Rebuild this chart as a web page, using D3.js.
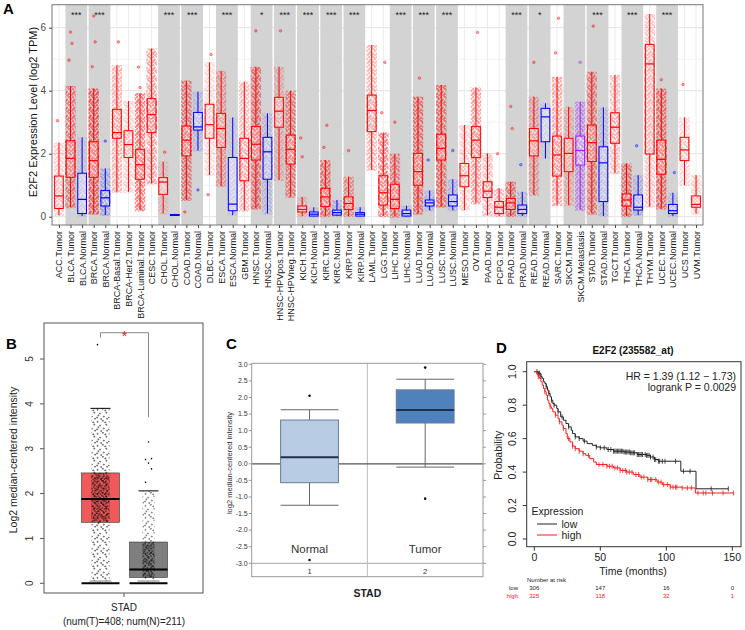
<!DOCTYPE html>
<html>
<head>
<meta charset="utf-8">
<script src="https://cdn.jsdelivr.net/npm/d3@7"></script>
<style>
  body { margin: 0; background: #fff; }
  svg { display: block; font-family: "Liberation Sans", Arial, sans-serif; }
</style>
</head>
<body>
<script>
// ---- panel A data (TIMER boxplots) ----
const groupsA = ["ACC.Tumor","BLCA.Tumor","BLCA.Normal","BRCA.Tumor","BRCA.Normal","BRCA-Basal.Tumor","BRCA-Her2.Tumor","BRCA-Luminal.Tumor","CESC.Tumor","CHOL.Tumor","CHOL.Normal","COAD.Tumor","COAD.Normal","DLBC.Tumor","ESCA.Tumor","ESCA.Normal","GBM.Tumor","HNSC.Tumor","HNSC.Normal","HNSC-HPVpos.Tumor","HNSC-HPVneg.Tumor","KICH.Tumor","KICH.Normal","KIRC.Tumor","KIRC.Normal","KIRP.Tumor","KIRP.Normal","LAML.Tumor","LGG.Tumor","LIHC.Tumor","LIHC.Normal","LUAD.Tumor","LUAD.Normal","LUSC.Tumor","LUSC.Normal","MESO.Tumor","OV.Tumor","PAAD.Tumor","PCPG.Tumor","PRAD.Tumor","PRAD.Normal","READ.Tumor","READ.Normal","SARC.Tumor","SKCM.Tumor","SKCM.Metastasis","STAD.Tumor","STAD.Normal","TGCT.Tumor","THCA.Tumor","THCA.Normal","THYM.Tumor","UCEC.Tumor","UCEC.Normal","UCS.Tumor","UVM.Tumor"];
const loA  = [0.05,0.3,0.02,0.1,0.05,0.79,0.79,0.2,1.06,0.1,0.03,0.53,2.1,1.32,0.97,0.05,0.19,0.26,0.1,1.16,0.63,0.02,0.01,0.02,0.02,0.02,0.01,1.48,0.02,0.0,0.0,0.1,0.2,0.32,0.2,0.21,0.42,0.05,0.02,0.02,0.02,0.69,1.85,0.37,0.37,0.21,0.1,0.02,1.38,0.02,0.05,0.32,0.26,0.02,1.0,0.1];
const q1A  = [0.26,1.25,0.1,1.25,0.34,2.49,1.88,1.19,2.67,0.71,0.04,1.93,2.75,2.49,2.2,0.19,1.14,1.8,1.19,2.84,1.67,0.15,0.02,0.32,0.05,0.23,0.02,2.7,0.37,0.26,0.02,1.0,0.34,1.8,0.34,0.95,1.88,0.61,0.1,0.23,0.1,1.93,2.38,1.29,1.43,1.64,1.75,0.48,2.33,0.34,0.21,1.99,1.35,0.1,1.78,0.3];
const medA = [0.66,1.85,0.55,1.78,0.6,2.67,2.29,1.65,3.24,1.1,0.05,2.43,2.85,2.92,2.8,0.4,1.85,2.3,2.06,3.35,2.14,0.23,0.08,0.63,0.13,0.42,0.08,3.37,0.76,0.55,0.1,1.43,0.44,2.17,0.48,1.3,2.43,0.81,0.3,0.44,0.23,2.41,3.17,1.96,2.01,2.1,2.35,1.71,2.84,0.53,0.3,4.85,1.82,0.19,2.12,0.39];
const q3A  = [1.29,2.41,1.38,2.38,0.83,3.41,2.73,2.14,3.75,1.24,0.07,2.88,3.31,3.57,3.28,1.88,2.49,2.86,2.52,3.79,2.59,0.34,0.15,0.9,0.21,0.63,0.13,3.86,1.3,1.03,0.21,2.01,0.53,2.62,0.69,1.69,2.86,1.11,0.48,0.58,0.37,2.8,3.44,2.56,2.49,2.56,2.91,2.22,3.3,0.72,0.69,5.47,2.43,0.39,2.52,0.66];
const hiA  = [2.35,4.15,2.52,4.07,1.53,4.81,3.67,3.92,5.34,1.75,0.09,4.32,3.97,4.9,4.63,3.15,4.29,4.76,3.28,4.76,4.0,0.63,0.3,1.8,0.53,1.27,0.3,5.45,2.67,2.0,0.35,3.81,0.83,4.18,1.19,2.91,4.1,2.01,0.9,1.11,0.79,3.81,3.6,4.44,3.49,3.65,4.6,3.47,4.5,1.69,1.32,6.43,4.07,0.76,3.15,1.32];
const nA   = [79,408,19,1093,112,191,82,566,304,36,9,457,41,48,184,11,153,520,44,97,422,66,25,533,72,290,32,173,516,371,50,515,59,501,51,87,303,178,179,497,52,166,10,259,103,368,415,35,150,509,59,120,545,35,57,80];
const outA = [["ACC.Tumor",3.05],["BLCA.Tumor",5.86],["BLCA.Tumor",5.5],["BLCA.Tumor",4.97],["BRCA.Tumor",6.37],["BRCA.Tumor",5.55],["BRCA.Tumor",4.76],["BRCA.Normal",2.4],["BRCA-Basal.Tumor",5.55],["BRCA-Luminal.Tumor",4.75],["BRCA-Luminal.Tumor",4.1],["CHOL.Tumor",2.05],["COAD.Tumor",0.15],["COAD.Normal",0.85],["DLBC.Tumor",5.15],["DLBC.Tumor",0.7],["HNSC.Tumor",5.9],["HNSC-HPVpos.Tumor",5.9],["KICH.Tumor",2.5],["KICH.Tumor",1.9],["KIRC.Tumor",2.9],["KIRC.Tumor",2.2],["KIRP.Tumor",2.1],["LGG.Tumor",4.9],["LGG.Tumor",3.3],["LIHC.Tumor",3.0],["LUAD.Tumor",4.4],["LUAD.Normal",1.8],["LUSC.Normal",2.1],["OV.Tumor",5.85],["PCPG.Tumor",2.0],["PRAD.Tumor",3.5],["PRAD.Tumor",2.8],["PRAD.Normal",1.65],["READ.Tumor",4.9],["SARC.Tumor",6.3],["SARC.Tumor",5.2],["SKCM.Metastasis",4.9],["STAD.Tumor",6.05],["THCA.Normal",2.25],["UCEC.Tumor",4.35],["UCEC.Normal",1.4],["UCS.Tumor",4.2]];
// shaded pairs: first group of pair, significance label
const pairsA = [["BLCA.Tumor","***"],["BRCA.Tumor","***"],["CHOL.Tumor","***"],["COAD.Tumor","***"],["ESCA.Tumor","***"],["HNSC.Tumor","*"],["HNSC-HPVpos.Tumor","***"],["KICH.Tumor","***"],["KIRC.Tumor","***"],["KIRP.Tumor","***"],["LIHC.Tumor","***"],["LUAD.Tumor","***"],["LUSC.Tumor","***"],["PRAD.Tumor","***"],["READ.Tumor","*"],["SKCM.Tumor",""],["STAD.Tumor","***"],["THCA.Tumor","***"],["UCEC.Tumor","***"]];
const ticksA = [0, 2, 4, 6];

// ---- panel B data (GEPIA) ----
const groupsB = ["Tumor", "Normal"];
const q1B = [1.36, 0.13], medB = [1.88, 0.31], q3B = [2.46, 0.92], hiB = [3.9, 2.06];
const outB = [["Tumor",5.32],["Normal",3.15],["Normal",2.78],["Normal",2.76],["Normal",2.68],["Normal",2.55],["Normal",2.25]];
const nB = [408, 211];
const ticksB = [0, 1, 2, 3, 4, 5];

// ---- panel C data (Oncomine) ----
const groupsC = ["Normal", "Tumor"];
const loC = [-1.25, -0.1], q1C = [-0.57, 1.23], medC = [0.2, 1.62], q3C = [1.32, 2.23], hiC = [1.63, 2.55];
const outC = [["Normal",2.05],["Normal",-2.9],["Tumor",2.9],["Tumor",-1.05]];
const ticksC = [3.0,2.5,2.0,1.5,1.0,0.5,0.0,-0.5,-1.0,-1.5,-2.0,-2.5,-3.0];

// ---- panel D data (KM plotter), step knots [months, survival] ----
const lowKM = [[0,1],[3,0.99],[5,0.97],[6,0.96],[7,0.94],[8,0.93],[9,0.91],[10,0.89],[11,0.87],[12,0.85],[13,0.83],[14,0.81],[15,0.8],[17,0.78],[18,0.76],[20,0.73],[22,0.71],[24,0.69],[26,0.67],[28,0.65],[29,0.63],[31,0.61],[34,0.6],[37,0.585],[40,0.57],[44,0.56],[47,0.55],[50,0.545],[55,0.535],[60,0.525],[68,0.52],[73,0.515],[78,0.505],[85,0.5],[88,0.49],[91,0.475],[94,0.465],[111,0.405],[122.5,0.3],[147,0.3]];
const highKM = [[0,1],[2,0.985],[3,0.97],[4,0.96],[5,0.94],[6,0.92],[7,0.9],[8,0.88],[9,0.86],[10,0.83],[11,0.81],[12,0.79],[13,0.78],[14,0.76],[16,0.74],[18,0.72],[19,0.7],[21,0.68],[22,0.66],[24,0.63],[25,0.6],[27,0.58],[29,0.555],[31,0.54],[34,0.525],[37,0.51],[39,0.5],[42,0.48],[45,0.46],[47,0.445],[55,0.435],[60,0.425],[65,0.41],[70,0.4],[75,0.385],[80,0.37],[86,0.355],[93,0.34],[97,0.325],[103,0.31],[112,0.305],[122,0.275],[151,0.275]];
const lowCensor = [2,3,4,5,9,11,13,15,18,21,26,31,34,38,47,50,53,56,58,60,61,62,63,64,65,66,67,68,69,70,71,72,73,74,75,76,78,79,80,81,82,84,85,86,87,88,90,91,92,94,95,97,99,107,113,118,134,147];
const highCensor = [3,8,12,16,19,22,26,29,31,34,37,41,49,52,55,57,59,61,63,65,67,69,70,72,74,77,79,81,83,86,88,89,92,94,96,98,101,103,105,107,108,112,116,119,124,128,130,135,143,151];
const riskTimes = [0, 50, 100, 150];
const riskLow = [306, 147, 16, 0];
const riskHigh = [325, 118, 32, 1];
const ticksDx = [0, 50, 100, 150];
const ticksDy = [0, 0.2, 0.4, 0.6, 0.8, 1.0];

const svg = d3.select("body").append("svg").attr("width", 745).attr("height", 630);
svg.append("rect").attr("width", 745).attr("height", 630).attr("fill", "#fff");

// dot textures for the sample clouds (irregular tile so it doesn't look hatched)
const tile = [[1,1.2],[4.6,0.5],[6.9,3.1],[2.7,3.7],[5.2,5.7],[0.7,6.3],[3.5,7.3],[7.4,7.1],[6.2,1.6],[1.6,4.9]];
const defs = svg.append("defs");
[["red", "#ff0000", 0.95, 8], ["blue", "#0000ff", 0.95, 8], ["purple", "#a020f0", 0.95, 8],
 ["black", "#000", 0.65, 7.5], ["black-sparse", "#000", 0.65, 12]].forEach(([id, c, r, s]) => {
  const p = defs.append("pattern").attr("id", "dots-" + id)
    .attr("width", s).attr("height", s).attr("patternUnits", "userSpaceOnUse");
  tile.forEach(([x, y]) => p.append("circle").attr("cx", x * s / 8).attr("cy", y * s / 8).attr("r", r)
    .attr("fill", c).attr("fill-opacity", 0.55).attr("stroke", c).attr("stroke-width", 0.4));
});

const panelLabel = (t, x, y) => svg.append("text").attr("x", x).attr("y", y)
  .attr("font-size", 15).attr("font-weight", "bold").text(t);

// ================= A =================
const a = { left: 52, right: 703, top: 4.7, bottom: 225 };
const xA = d3.scalePoint().domain(groupsA).range([a.left, a.right]).padding(0.6);
const yA = d3.scaleLinear().domain([0, 6]).range([216.7, 27.7]);
const stepA = xA.step();
const colorOf = g => g.endsWith("Normal") ? "#0000ff" : g.endsWith("Metastasis") ? "#a020f0" : "#ff0000";
const patOf = g => g.endsWith("Normal") ? "blue" : g.endsWith("Metastasis") ? "purple" : "red";

const gA = svg.append("g");
// grid
[1, 3, 5].forEach(v => gA.append("line").attr("x1", a.left).attr("x2", a.right)
  .attr("y1", yA(v)).attr("y2", yA(v)).attr("stroke", "#f2f2f2"));
ticksA.forEach(v => gA.append("line").attr("x1", a.left).attr("x2", a.right)
  .attr("y1", yA(v)).attr("y2", yA(v)).attr("stroke", "#e3e3e3"));
gA.selectAll(".vgrid").data(groupsA).enter().append("line")
  .attr("x1", d => xA(d)).attr("x2", d => xA(d)).attr("y1", a.top).attr("y2", a.bottom)
  .attr("stroke", "#ebebeb");

// shaded pairs + stars
pairsA.forEach(([g, s]) => {
  const x0 = xA(g) - stepA / 2 + 0.7;
  gA.append("rect").attr("x", x0).attr("y", a.top).attr("width", stepA * 2 - 1.4)
    .attr("height", a.bottom - a.top).attr("fill", "#d3d3d3");
  gA.append("text").attr("x", xA(g) + stepA / 2).attr("y", 18).attr("text-anchor", "middle")
    .attr("font-size", 9).attr("fill", "#222").text(s);
});

// clouds, whiskers, boxes
const bwA = stepA * 0.75, cwA = stepA * 0.9;
groupsA.forEach((g, i) => {
  const x = xA(g), c = colorOf(g);
  const op = Math.min(1, Math.sqrt(nA[i]) / 26);
  gA.append("rect").attr("x", x - cwA / 2).attr("width", cwA)
    .attr("y", yA(hiA[i])).attr("height", yA(loA[i]) - yA(hiA[i]) + 1)
    .attr("fill", "url(#dots-" + patOf(g) + ")").attr("opacity", op * 0.8);
  gA.append("rect").attr("x", x - cwA / 2).attr("width", cwA)
    .attr("y", yA(q3A[i])).attr("height", yA(q1A[i]) - yA(q3A[i]))
    .attr("fill", "url(#dots-" + patOf(g) + ")").attr("opacity", Math.min(1, op * 1.3));
  gA.append("line").attr("x1", x).attr("x2", x).attr("y1", yA(hiA[i])).attr("y2", yA(q3A[i]))
    .attr("stroke", c).attr("stroke-width", 1);
  gA.append("line").attr("x1", x).attr("x2", x).attr("y1", yA(q1A[i])).attr("y2", yA(loA[i]))
    .attr("stroke", c).attr("stroke-width", 1);
  gA.append("rect").attr("x", x - bwA / 2).attr("width", bwA)
    .attr("y", yA(q3A[i])).attr("height", Math.max(1, yA(q1A[i]) - yA(q3A[i])))
    .attr("fill", "#fff").attr("fill-opacity", 0.45).attr("stroke", c).attr("stroke-width", 1);
  gA.append("line").attr("x1", x - bwA / 2).attr("x2", x + bwA / 2)
    .attr("y1", yA(medA[i])).attr("y2", yA(medA[i])).attr("stroke", c).attr("stroke-width", 1.2);
});
gA.selectAll(".outA").data(outA).enter().append("circle")
  .attr("cx", (d, i) => xA(d[0]) + ((i % 3) - 1) * 1.5).attr("cy", d => yA(d[1])).attr("r", 1.3)
  .attr("fill", d => colorOf(d[0])).attr("fill-opacity", 0.35)
  .attr("stroke", d => colorOf(d[0])).attr("stroke-opacity", 0.6).attr("stroke-width", 0.6);

// frame + axes
gA.append("rect").attr("x", a.left).attr("y", a.top).attr("width", a.right - a.left)
  .attr("height", a.bottom - a.top).attr("fill", "none").attr("stroke", "#777");
const axA = gA.append("g").attr("transform", "translate(" + a.left + ",0)")
  .call(d3.axisLeft(yA).tickValues(ticksA).tickFormat(d3.format("d")).tickSize(3));
axA.select(".domain").remove();
axA.selectAll("line").attr("stroke", "#444");
axA.selectAll("text").attr("font-size", 10).attr("fill", "#4d4d4d").attr("font-family", "Liberation Sans");
const axAx = gA.append("g").attr("transform", "translate(0," + a.bottom + ")")
  .call(d3.axisBottom(xA).tickSize(3));
axAx.select(".domain").remove();
axAx.selectAll("line").attr("stroke", "#444");
axAx.selectAll("text").attr("font-size", 9).attr("fill", "#1a1a1a").attr("font-family", "Liberation Sans")
  .attr("transform", "rotate(-90)").attr("text-anchor", "end")
  .attr("x", -6).attr("y", 0).attr("dy", "0.33em");
gA.append("text").attr("transform", "translate(37,112) rotate(-90)").attr("text-anchor", "middle")
  .attr("font-size", 11).attr("fill", "#111").text("E2F2 Expression Level (log2 TPM)");
panelLabel("A", 3, 14);

// ================= B =================
const b = { left: 44, right: 203, top: 323, bottom: 593 };
const xB = d3.scaleBand().domain(groupsB).range([81.5, 167.5]).paddingInner(0.21);
const yB = d3.scaleLinear().domain([0, 5]).range([583.3, 359]);
const gB = svg.append("g");
const fillB = ["#f05a5a", "#7f7f7f"], cloudW = [18, 12];
groupsB.forEach((g, i) => {
  const x0 = xB(g), w = xB.bandwidth(), cx = x0 + w / 2;
  gB.append("rect").attr("x", x0).attr("width", w).attr("y", yB(q3B[i]))
    .attr("height", yB(q1B[i]) - yB(q3B[i])).attr("fill", fillB[i]).attr("stroke", "#333").attr("stroke-width", 0.6);
  // sample cloud drawn over the box
  gB.append("rect").attr("x", cx - cloudW[i] / 2).attr("width", cloudW[i])
    .attr("y", yB(hiB[i])).attr("height", yB(0) - yB(hiB[i]))
    .attr("fill", "url(#dots-black-sparse)").attr("opacity", nB[i] > 300 ? 0.85 : 0.7);
  gB.append("rect").attr("x", cx - cloudW[i] / 2).attr("width", cloudW[i])
    .attr("y", yB(q3B[i])).attr("height", yB(q1B[i]) - yB(q3B[i]))
    .attr("fill", "url(#dots-black)").attr("opacity", 0.85);
  gB.append("line").attr("x1", x0).attr("x2", x0 + w).attr("y1", yB(medB[i])).attr("y2", yB(medB[i]))
    .attr("stroke", "#000").attr("stroke-width", 2);
  gB.append("line").attr("x1", cx - 10).attr("x2", cx + 10).attr("y1", yB(hiB[i])).attr("y2", yB(hiB[i]))
    .attr("stroke", "#000").attr("stroke-width", 1);
  gB.append("line").attr("x1", x0 + 8).attr("x2", x0 + w - 8).attr("y1", yB(0.05)).attr("y2", yB(0.05))
    .attr("stroke", "#aaa").attr("stroke-width", 1.5);
  gB.append("line").attr("x1", x0).attr("x2", x0 + w).attr("y1", yB(0)).attr("y2", yB(0))
    .attr("stroke", "#000").attr("stroke-width", 2);
});
gB.selectAll(".outB").data(outB).enter().append("circle")
  .attr("cx", (d, i) => xB(d[0]) + xB.bandwidth() / 2 + ((i % 3) - 1) * 3)
  .attr("cy", d => yB(d[1])).attr("r", 0.8).attr("fill", "#000");
// significance bracket
const bl = xB("Tumor") + xB.bandwidth() / 2, br = xB("Normal") + xB.bandwidth() / 2;
gB.append("path").attr("d", "M" + bl + "," + (yB(5.32) - 7) + "V332.7H" + br + "V" + yB(3.7))
  .attr("fill", "none").attr("stroke", "#888").attr("stroke-width", 1);
gB.append("text").attr("x", (bl + br) / 2).attr("y", 341).attr("text-anchor", "middle")
  .attr("font-size", 14).attr("fill", "#e8202a").text("*");
gB.append("rect").attr("x", b.left).attr("y", b.top).attr("width", b.right - b.left)
  .attr("height", b.bottom - b.top).attr("fill", "none").attr("stroke", "#555");
ticksB.forEach(v => {
  gB.append("line").attr("x1", b.left - 4).attr("x2", b.left).attr("y1", yB(v)).attr("y2", yB(v)).attr("stroke", "#555");
  gB.append("text").attr("transform", "translate(33," + yB(v) + ") rotate(-90)").attr("text-anchor", "middle")
    .attr("font-size", 10).attr("fill", "#333").text(v);
});
gB.append("line").attr("x1", 124).attr("x2", 124).attr("y1", b.bottom).attr("y2", b.bottom + 4).attr("stroke", "#555");
gB.append("text").attr("transform", "translate(17,460) rotate(-90)").attr("text-anchor", "middle")
  .attr("font-size", 10.5).attr("fill", "#222").text("Log2 median-centered intensity");
gB.append("text").attr("x", 124).attr("y", 611).attr("text-anchor", "middle").attr("font-size", 10).attr("fill", "#222").text("STAD");
gB.append("text").attr("x", 124).attr("y", 625).attr("text-anchor", "middle").attr("font-size", 10).attr("fill", "#222").text("(num(T)=408; num(N)=211)");
panelLabel("B", 6, 349);

// ================= C =================
const c = { left: 251.7, right: 483, top: 363.3, bottom: 576.7 };
const xC = d3.scaleBand().domain(groupsC).range([c.left, c.right]);
const yC = d3.scaleLinear().domain([-3, 3]).range([563.3, 364.3]);
const gC = svg.append("g");
const fillC = ["#b8cce4", "#4f81bd"];
gC.append("line").attr("x1", c.left).attr("x2", c.right).attr("y1", yC(-3)).attr("y2", yC(-3)).attr("stroke", "#a6a6a6");
gC.append("line").attr("x1", xC("Tumor")).attr("x2", xC("Tumor")).attr("y1", c.top).attr("y2", c.bottom).attr("stroke", "#bbb");
gC.append("line").attr("x1", c.left).attr("x2", c.right).attr("y1", yC(0)).attr("y2", yC(0)).attr("stroke", "#555").attr("stroke-width", 1.2);
groupsC.forEach((g, i) => {
  const w = xC.bandwidth() * 0.5, cx = xC(g) + xC.bandwidth() / 2, x0 = cx - w / 2;
  gC.append("line").attr("x1", cx).attr("x2", cx).attr("y1", yC(hiC[i])).attr("y2", yC(loC[i])).attr("stroke", "#666");
  [hiC[i], loC[i]].forEach(v => gC.append("line").attr("x1", x0).attr("x2", x0 + w)
    .attr("y1", yC(v)).attr("y2", yC(v)).attr("stroke", "#666"));
  gC.append("rect").attr("x", x0).attr("width", w).attr("y", yC(q3C[i])).attr("height", yC(q1C[i]) - yC(q3C[i]))
    .attr("fill", fillC[i]).attr("stroke", "#6a7c94").attr("stroke-width", 1);
  gC.append("line").attr("x1", x0).attr("x2", x0 + w).attr("y1", yC(medC[i])).attr("y2", yC(medC[i]))
    .attr("stroke", "#1f2f4f").attr("stroke-width", 2);
  gC.append("text").attr("x", cx).attr("y", 553).attr("text-anchor", "middle").attr("font-size", 11.5).attr("fill", "#333").text(g);
  gC.append("text").attr("x", cx).attr("y", 574).attr("text-anchor", "middle").attr("font-size", 7.5).attr("fill", "#333").text(i + 1);
});
gC.selectAll(".outC").data(outC).enter().append("circle")
  .attr("cx", d => xC(d[0]) + xC.bandwidth() / 2).attr("cy", d => yC(d[1])).attr("r", 1.3).attr("fill", "#111");
gC.append("rect").attr("x", c.left).attr("y", c.top).attr("width", c.right - c.left)
  .attr("height", c.bottom - c.top).attr("fill", "none").attr("stroke", "#999");
ticksC.forEach(v => {
  gC.append("line").attr("x1", c.left - 3).attr("x2", c.left).attr("y1", yC(v)).attr("y2", yC(v)).attr("stroke", "#999");
  gC.append("line").attr("x1", c.right).attr("x2", c.right + 3).attr("y1", yC(v)).attr("y2", yC(v)).attr("stroke", "#999");
  gC.append("text").attr("x", c.left - 4).attr("y", yC(v)).attr("dy", "0.33em").attr("text-anchor", "end")
    .attr("font-size", 7).attr("fill", "#333").text(d3.format(".1f")(v).replace("\u2212", "-"));
});
gC.append("text").attr("transform", "translate(232,463) rotate(-90)").attr("text-anchor", "middle")
  .attr("font-size", 7.5).attr("fill", "#333").text("log2 median-centered intensity");
gC.append("text").attr("x", (c.left + c.right) / 2).attr("y", 597).attr("text-anchor", "middle")
  .attr("font-size", 10.5).attr("font-weight", "bold").attr("fill", "#222").text("STAD");
panelLabel("C", 226, 349);

// ================= D =================
const dd = { left: 526.7, right: 741, top: 361.7, bottom: 546.7 };
const xD = d3.scaleLinear().domain([0, 150]).range([534.3, 732.3]);
const yD = d3.scaleLinear().domain([0, 1]).range([539, 371.7]);
const gD = svg.append("g");
const stepLine = d3.line().x(d => xD(d[0])).y(d => yD(d[1])).curve(d3.curveStepAfter);
const survAt = (km, t) => km[d3.bisector(d => d[0]).right(km, t) - 1][1];
[[lowKM, lowCensor, "#222"], [highKM, highCensor, "#ff1a1a"]].forEach(([km, cens, col]) => {
  gD.append("path").attr("d", stepLine(km)).attr("fill", "none").attr("stroke", col).attr("stroke-width", 1);
  gD.selectAll(null).data(cens).enter().append("line")
    .attr("x1", t => xD(t)).attr("x2", t => xD(t))
    .attr("y1", t => yD(survAt(km, t)) - 2.5).attr("y2", t => yD(survAt(km, t)) + 2.5)
    .attr("stroke", col).attr("stroke-width", 0.8);
});
gD.append("rect").attr("x", dd.left).attr("y", dd.top).attr("width", dd.right - dd.left)
  .attr("height", dd.bottom - dd.top).attr("fill", "none").attr("stroke", "#333");
ticksDy.forEach(v => {
  gD.append("line").attr("x1", dd.left - 4).attr("x2", dd.left).attr("y1", yD(v)).attr("y2", yD(v)).attr("stroke", "#333");
  gD.append("text").attr("transform", "translate(516," + yD(v) + ") rotate(-90)").attr("text-anchor", "middle")
    .attr("font-size", 10.5).attr("fill", "#222").text(d3.format(".1f")(v));
});
ticksDx.forEach(v => {
  gD.append("line").attr("x1", xD(v)).attr("x2", xD(v)).attr("y1", dd.bottom).attr("y2", dd.bottom + 4).attr("stroke", "#333");
  gD.append("text").attr("x", xD(v)).attr("y", 561).attr("text-anchor", "middle")
    .attr("font-size", 10.5).attr("fill", "#222").text(v);
});
gD.append("text").attr("transform", "translate(502," + yD(0.5) + ") rotate(-90)").attr("text-anchor", "middle")
  .attr("font-size", 10.5).attr("fill", "#222").text("Probability");
gD.append("text").attr("x", 633).attr("y", 575).attr("text-anchor", "middle").attr("font-size", 10.5).attr("fill", "#222").text("Time (months)");
gD.append("text").attr("x", 633).attr("y", 354).attr("text-anchor", "middle").attr("font-size", 10)
  .attr("font-weight", "bold").attr("fill", "#111").text("E2F2 (235582_at)");
gD.append("text").attr("x", 736).attr("y", 379.5).attr("text-anchor", "end").attr("font-size", 10.5).attr("fill", "#222").text("HR = 1.39 (1.12 \u2212 1.73)");
gD.append("text").attr("x", 736).attr("y", 391).attr("text-anchor", "end").attr("font-size", 10.5).attr("fill", "#222").text("logrank P = 0.0029");
// legend
gD.append("text").attr("x", 531.5).attr("y", 515).attr("font-size", 10.5).attr("fill", "#222").text("Expression");
[["low", "#222", 524], ["high", "#ff1a1a", 535]].forEach(([t, col, y]) => {
  gD.append("line").attr("x1", 537).attr("x2", 557).attr("y1", y).attr("y2", y).attr("stroke", col);
  gD.append("text").attr("x", 561.5).attr("y", y + 3.5).attr("font-size", 10.5).attr("fill", "#222").text(t);
});
// number at risk
gD.append("text").attr("x", 527).attr("y", 582).attr("font-size", 6).attr("fill", "#222").text("Number at risk");
[["low", riskLow, "#222", 590], ["high", riskHigh, "#ff1a1a", 598]].forEach(([t, vals, col, y]) => {
  gD.append("text").attr("x", 518).attr("y", y).attr("text-anchor", "end").attr("font-size", 6).attr("fill", col).text(t);
  riskTimes.forEach((tm, i) => gD.append("text").attr("x", xD(tm)).attr("y", y).attr("text-anchor", "middle")
    .attr("font-size", 6).attr("fill", col).text(vals[i]));
});
panelLabel("D", 496, 353);
</script>
</body>
</html>
